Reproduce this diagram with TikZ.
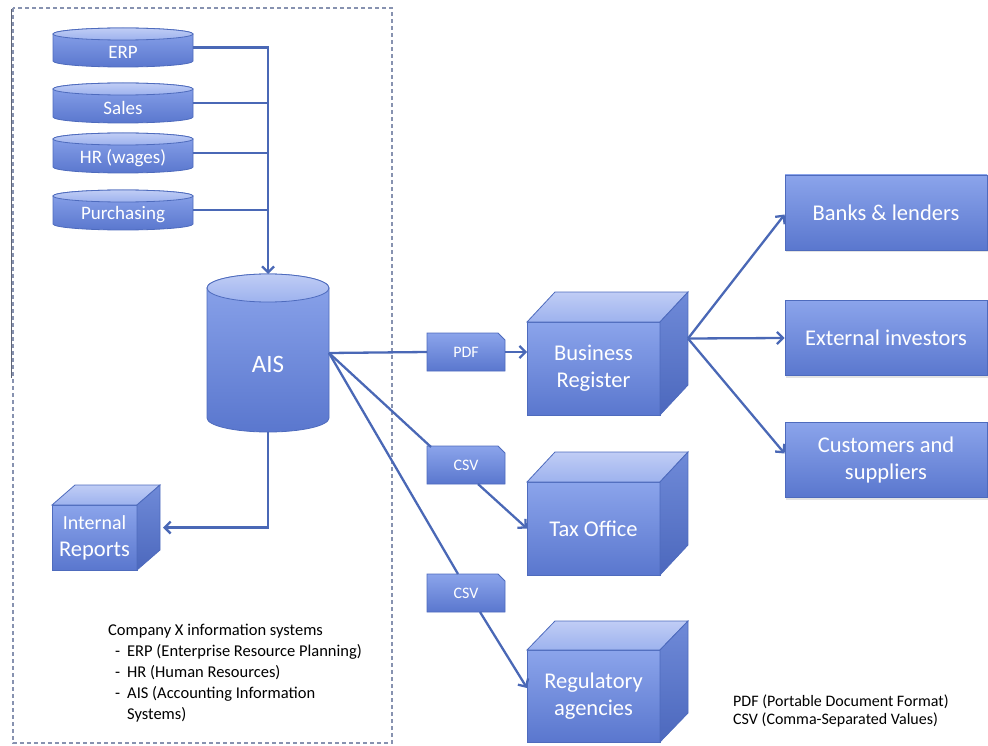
\documentclass[tikz,border=0pt]{standalone}
\usepackage{fontspec}
\setmainfont{Carlito}
\usetikzlibrary{arrows.meta,calc,shadows}

\definecolor{edge}{HTML}{4E6BBD}
\definecolor{fillhi}{HTML}{8BA4EB}
\definecolor{filllo}{HTML}{5A77CE}
\definecolor{topA}{HTML}{C0CDF5}
\definecolor{topB}{HTML}{9DB2EE}
\definecolor{sideA}{HTML}{6F8AD8}
\definecolor{sideB}{HTML}{4C68BD}
\definecolor{wire}{HTML}{4A68B6}
\definecolor{frame}{HTML}{8792B0}
\definecolor{frameink}{HTML}{5E6475}

\tikzset{
  wire/.style={draw=wire, line width=2.3pt},
  flow/.style={wire, -{Straight Barb[length=6pt,width=12pt]}},
  bigtext/.style={text=white, font=\fontsize{22.5}{27}\selectfont, align=center},
  drumbody/.style={draw=edge, line width=0.8pt, top color=fillhi, bottom color=filllo},
  drumlid/.style={draw=edge, line width=0.8pt, top color=topA, bottom color=topB},
  cubefront/.style={draw=edge, line width=0.8pt, top color=fillhi, bottom color=filllo,
    inner sep=0pt, outer sep=0pt, bigtext},
  cubetop/.style={draw=edge, line width=0.8pt, top color=topA, bottom color=topB},
  cubeside/.style={draw=edge, line width=0.8pt, top color=sideA, bottom color=sideB},
  tile/.style={draw=edge, line width=0.8pt, top color=fillhi, bottom color=filllo,
    minimum width=202pt, minimum height=75pt, inner sep=0pt, bigtext,
    drop shadow={opacity=0.22, shadow xshift=1pt, shadow yshift=-2.5pt}},
  tagbody/.style={draw=edge, line width=0.8pt, top color=fillhi, bottom color=filllo},
  tagsize/.style={minimum width=78pt, minimum height=38pt, inner sep=0pt, outer sep=0pt},
  tagtext/.style={text=white, font=\fontsize{16}{18}\selectfont},
  notes/.style={font=\fontsize{16.5}{21}\selectfont, align=left, inner sep=0pt, text=black},
}

% database drum: name, centre x, top y, bottom y, half width, lid half height, text, font size
\newcommand\drum[8]{%
  \draw[drumbody] (#2-#5,#3+#6) -- (#2-#5,#4-#6)
    arc[start angle=180,end angle=360,x radius=#5pt,y radius=#6pt]
    -- (#2+#5,#3+#6)
    arc[start angle=0,end angle=180,x radius=#5pt,y radius=#6pt] -- cycle;
  \draw[drumlid] (#2,#3+#6) ellipse[x radius=#5pt,y radius=#6pt];
  \node[minimum width={2*#5pt}, minimum height={(#4-#3)*1pt}, inner sep=0pt, outer sep=0pt]
    (#1) at (#2,{(#3+#4)/2}) {};
  \node[text=white, font=\fontsize{#8}{#8}\selectfont] (#1-text)
    at (#2,{(#3+#4)/2+0.8*#6}) {#7};
}

% box in perspective: name, centre x, centre y, width, height, depth x, depth y, text
\newcommand\crate[8]{%
  \node[cubefront, minimum width=#4pt, minimum height=#5pt] (#1) at (#2,#3) {#8};
  \draw[cubetop] (#1.north west) -- ++(#6,-#7) -- ++(#4,0) -- (#1.north east) -- cycle;
  \draw[cubeside] (#1.north east) -- ++(#6,-#7) -- ++(0,#5) -- (#1.south east) -- cycle;
}

% file tag with a clipped corner: name, position, text
\newcommand\filetag[3]{%
  \node[tagsize] (#1) at (#2) {};
  \draw[tagbody] (#1.south west) -- (#1.north west) -- ([xshift=-7pt]#1.north east)
    -- ([yshift=-7pt]#1.north east) -- (#1.south east) -- cycle;
  \node[tagtext] (#1-text) at (#1.center) {#3};
}

\begin{document}
\begin{tikzpicture}[x=1pt,y=-1pt]
  \useasboundingbox (0,0) rectangle (988,746);

  % company boundary
  \draw[frame, line width=1.3pt, dash pattern=on 4pt off 3pt] (13,8) rectangle (392,743);
  \draw[frameink, line width=1.6pt] (11.5,9) -- (11.5,378);

  % source systems
  \drum{erp}{123}{28}{67}{70}{6}{ERP}{19}
  \drum{sales}{123}{83}{123}{70}{6}{Sales}{19}
  \drum{hr}{123}{133}{173}{70}{6}{HR (wages)}{19}
  \drum{purch}{123}{190}{230}{70}{6}{Purchasing}{19}

  % accounting information system
  \drum{ais}{268}{274}{432}{61}{14}{AIS}{25}

  % recipients
  \crate{ir}{94.5}{537.5}{85}{65}{23}{20}{\fontsize{20}{25}\selectfont Internal\\Reports}
  \crate{br}{593.5}{368.5}{133}{93}{28}{30}{Business\\Register}
  \crate{tax}{593.5}{528.5}{133}{93}{28}{30}{Tax Office}
  \crate{reg}{593.5}{696}{133}{92}{28}{29}{Regulatory\\agencies}

  \node[tile] (banks) at (886,212.5) {Banks \& lenders};
  \node[tile] (ext) at (886,338) {External investors};
  \node[tile] (cust) at (886,459.5) {Customers and\\suppliers};

  % exchanged file formats
  \filetag{pdf}{466,352}{PDF}
  \filetag{csv1}{466,465}{CSV}
  \filetag{csv2}{466,593}{CSV}

  % feeds into the AIS
  \draw[flow] (erp.east) -| (ais.north);
  \draw[wire] (sales.east) -- (sales.east -| ais.north);
  \draw[wire] (hr.east) -- (hr.east -| ais.north);
  \draw[wire] (purch.east) -- (purch.east -| ais.north);

  % internal reporting
  \coordinate (irside) at ([xshift=26pt,yshift=10pt]ir.east);
  \draw[flow] (ais.south) |- (irside);

  % external reporting
  \draw[wire] (ais.east) -- (pdf.west);
  \draw[flow] (pdf.east) -- (pdf.east -| br.west);
  \draw[wire] (ais.east) -- ([xshift=4pt,yshift=-1pt]csv1.north west);
  \draw[flow] ([xshift=12pt]csv1.south) -- (tax.west);
  \draw[wire] (ais.east) -- ([xshift=-8pt]csv2.north);
  \draw[flow] ([xshift=14pt]csv2.south) -- ([yshift=8pt]reg.west);

  \coordinate (brfan) at ($(br.east)+(28,-30)$);
  \draw[flow] (brfan) -- ([yshift=-2pt]banks.west);
  \draw[flow] (brfan) -- (ext.west);
  \draw[flow] (brfan) -- ([yshift=6pt]cust.west);

  % notes
  \node[notes, anchor=north west] (sysnote) at (108,624) {%
    Company X information systems\\
    \makebox[19pt][l]{\hspace{7pt}-}ERP (Enterprise Resource Planning)\\
    \makebox[19pt][l]{\hspace{7pt}-}HR (Human Resources)\\
    \makebox[19pt][l]{\hspace{7pt}-}AIS (Accounting Information\\
    \hspace*{19pt}Systems)};
  \node[notes, anchor=west, font=\fontsize{16}{18.5}\selectfont] (fmtnote) at (733,711) {%
    PDF (Portable Document Format)\\
    CSV (Comma-Separated Values)};
\end{tikzpicture}
\end{document}
